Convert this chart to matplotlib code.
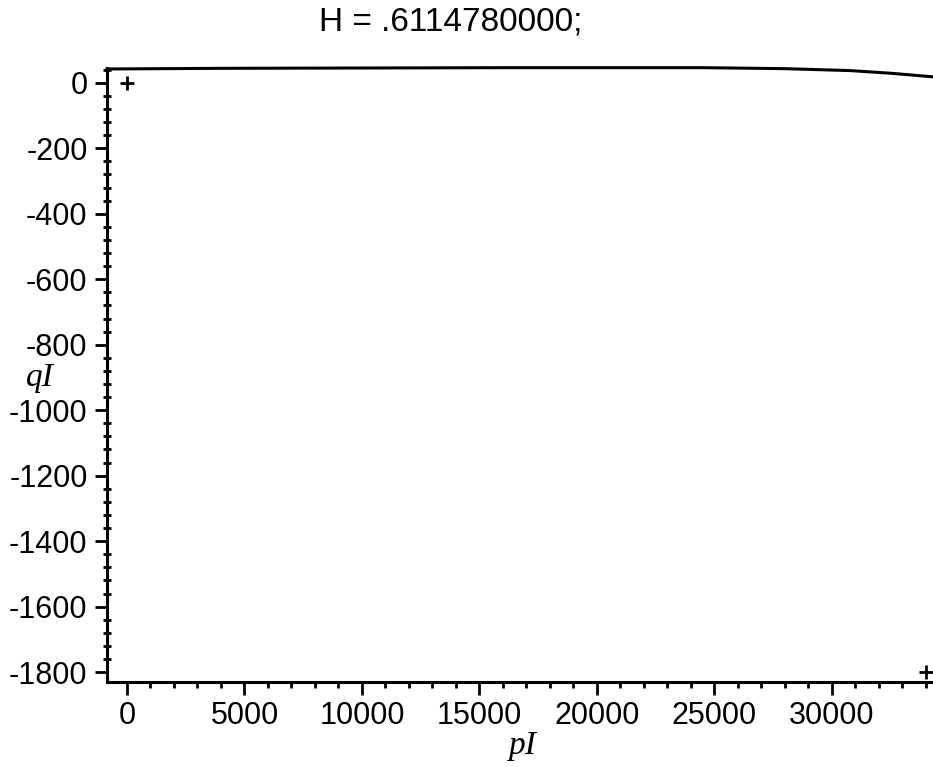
import matplotlib.pyplot as plt
from matplotlib.ticker import MultipleLocator

# curve qI(pI) (runs along the top of the box)
pI = [-850, 4000, 10000, 16000, 20000, 24500, 28000, 30800, 32500, 34300]
qI = [42, 44, 45, 46, 46, 46, 43, 37, 29, 18]

# the two marked points
mark_p = [0, 34000]
mark_q = [0, -1800]

title = 'H = .6114780000;'
yticks = [0, -200, -400, -600, -800, -1000, -1200, -1400, -1600, -1800]
xticks = [0, 5000, 10000, 15000, 20000, 25000, 30000]

plt.rcParams['font.family'] = ['Liberation Sans', 'DejaVu Sans']
plt.rcParams['axes.unicode_minus'] = False

fig = plt.figure(figsize=(9.33, 7.67), dpi=100)
ax = fig.add_axes([107/933, 1 - 682/767, 1 - 107/933, (682 - 68)/767])

ax.plot(pI, qI, color='black', lw=2.2, clip_on=False)
ax.plot(mark_p, mark_q, linestyle='none', marker='+', color='black',
        markersize=10, markeredgewidth=2, clip_on=False)

ax.set_xlim(-850, 34300)
ax.set_ylim(-1830, 45)

ax.spines['top'].set_visible(False)
ax.spines['right'].set_visible(False)
ax.spines['left'].set_linewidth(2.2)
ax.spines['bottom'].set_linewidth(2.2)

ax.set_xticks(xticks)
ax.set_yticks(yticks)
ax.xaxis.set_minor_locator(MultipleLocator(1000))
ax.yaxis.set_minor_locator(MultipleLocator(40))
ax.tick_params(axis='both', which='major', labelsize=22, length=9, width=2, pad=5)
ax.tick_params(axis='both', which='minor', length=4, width=2)
ax.tick_params(axis='y', which='minor', direction='inout', length=6)

fig.text(0.483, 0.971, title, ha='center', va='center', fontsize=24)
fig.text(0.56, 0.028, 'pI', ha='center', va='center', fontsize=24,
         family='Liberation Serif', style='italic')
fig.text(0.043, 0.508, 'qI', ha='center', va='center', fontsize=24,
         family='Liberation Serif', style='italic')

fig.savefig('out.png', dpi=100)
